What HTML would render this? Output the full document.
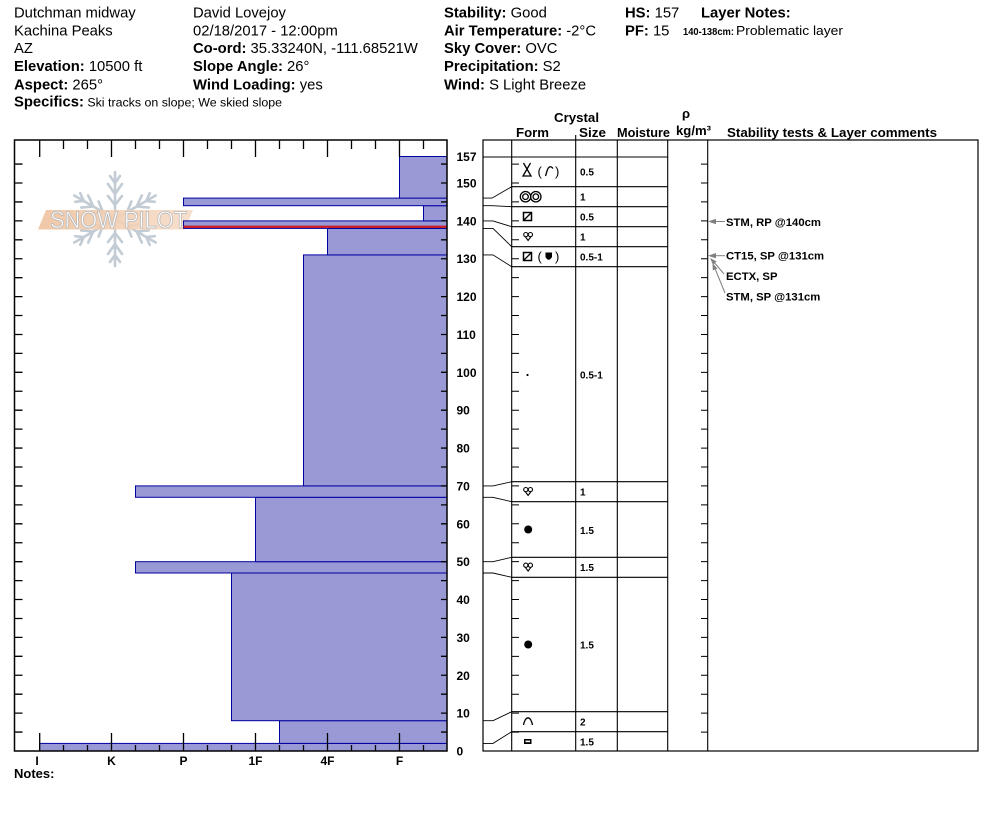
<!DOCTYPE html>
<html><head><meta charset="utf-8"><style>
html,body{margin:0;padding:0;background:#fff;}
svg{display:block;}
text{font-family:"Liberation Sans",Arial,sans-serif;fill:#000;}
.b{font-weight:bold;}
</style></head><body>
<svg width="994" height="840" viewBox="0 0 994 840" xmlns="http://www.w3.org/2000/svg">
<rect width="994" height="840" fill="#fff"/>
<!-- Header -->
<g font-size="14.8">
<text x="14" y="17.5">Dutchman midway</text>
<text x="14" y="35.3">Kachina Peaks</text>
<text x="14" y="53">AZ</text>
<text x="14" y="71"><tspan class="b">Elevation:</tspan> 10500 ft</text>
<text x="14" y="89.3"><tspan class="b">Aspect:</tspan> 265°</text>
<text x="14" y="106.5"><tspan class="b">Specifics:</tspan><tspan font-size="12.4"> Ski tracks on slope; We skied slope</tspan></text>

<text x="193" y="17.5">David Lovejoy</text>
<text x="193" y="35.3">02/18/2017 - 12:00pm</text>
<text x="193" y="53"><tspan class="b">Co-ord:</tspan> 35.33240N, -111.68521W</text>
<text x="193" y="71"><tspan class="b">Slope Angle:</tspan> 26°</text>
<text x="193" y="89.3"><tspan class="b">Wind Loading:</tspan> yes</text>

<text x="444" y="17.5"><tspan class="b">Stability:</tspan> Good</text>
<text x="444" y="35.3"><tspan class="b">Air Temperature:</tspan> -2°C</text>
<text x="444" y="53"><tspan class="b">Sky Cover:</tspan> OVC</text>
<text x="444" y="71"><tspan class="b">Precipitation:</tspan> S2</text>
<text x="444" y="89.3"><tspan class="b">Wind:</tspan>  S Light Breeze</text>

<text x="625" y="17.5"><tspan class="b">HS:</tspan> 157</text>
<text x="625" y="35.3"><tspan class="b">PF:</tspan> 15</text>
<text x="701" y="17.5" class="b">Layer Notes:</text>
</g>
<text x="683" y="35" font-size="10.5" class="b" textLength="51" lengthAdjust="spacingAndGlyphs">140-138cm:</text>
<text x="736" y="35" font-size="12.5" textLength="107" lengthAdjust="spacingAndGlyphs">Problematic layer</text>

<!-- Table header -->
<g font-size="13" class="b">
<text x="554" y="122" textLength="45" lengthAdjust="spacingAndGlyphs">Crystal</text>
<text x="516" y="137" textLength="33" lengthAdjust="spacingAndGlyphs">Form</text>
<text x="579" y="137" textLength="27" lengthAdjust="spacingAndGlyphs">Size</text>
<text x="617" y="137" textLength="53" lengthAdjust="spacingAndGlyphs">Moisture</text>
<text x="686" y="118" text-anchor="middle">ρ</text>
<text x="676" y="135" textLength="35" lengthAdjust="spacingAndGlyphs">kg/m³</text>
<text x="727" y="137" textLength="210" lengthAdjust="spacingAndGlyphs">Stability tests &amp; Layer comments</text>
</g>

<!-- Logo -->
<g stroke="#c3ccd4" stroke-width="2.6" fill="none" stroke-linecap="round">
<g transform="translate(115,219)">
<g id="arm"><path d="M0 0 V-47 M0 -14 L-7 -23 M0 -14 L7 -23 M0 -25 L-7 -35 M0 -25 L7 -35 M0 -36 L-5 -43 M0 -36 L5 -43"/></g>
<use href="#arm" transform="rotate(60)"/>
<use href="#arm" transform="rotate(120)"/>
<use href="#arm" transform="rotate(180)"/>
<use href="#arm" transform="rotate(240)"/>
<use href="#arm" transform="rotate(300)"/>
</g>
</g>
<defs><linearGradient id="bg" x1="0" x2="1" y1="0" y2="0"><stop offset="0" stop-color="#eec29e"/><stop offset="1" stop-color="#f6dcc8"/></linearGradient></defs>
<polygon points="46,210 193,210 185,229.5 38,229.5" fill="url(#bg)" opacity="0.9"/>
<text x="50" y="228" font-size="24" textLength="137" lengthAdjust="spacingAndGlyphs" style="fill:#ffffff" stroke="#b8b8b8" stroke-width="0.8">SNOW PILOT</text>

<!-- Left chart bars -->
<g fill="#9999d6" stroke="#0000a0" stroke-width="1">
<rect x="39.5" y="743.4" width="407.5" height="7.6"/>
<rect x="279.5" y="720.7" width="167.5" height="22.7"/>
<rect x="231.5" y="573" width="215.5" height="147.7"/>
<rect x="135.5" y="561.7" width="311.5" height="11.3"/>
<rect x="255.5" y="497.3" width="191.5" height="64.4"/>
<rect x="135.5" y="485.9" width="311.5" height="11.4"/>
<rect x="303.5" y="254.9" width="143.5" height="231"/>
<rect x="327.5" y="228.4" width="119.5" height="26.5"/>
<rect x="183.5" y="220.9" width="263.5" height="7.5"/>
<rect x="423.5" y="205.7" width="23.5" height="15.2"/>
<rect x="183.5" y="198.1" width="263.5" height="7.6"/>
<rect x="399.5" y="156.5" width="47.5" height="41.6"/>
</g>
<rect x="183.5" y="225.6" width="263.5" height="2.4" fill="#c8202a"/>

<!-- Left chart frame and ticks -->
<rect x="14.5" y="140" width="432.5" height="611" fill="none" stroke="#000" stroke-width="1.5"/>
<path stroke="#000" stroke-width="1.3" fill="none" d="
M39.7 140 V157 M111.5 140 V157 M183.5 140 V157 M255.5 140 V157 M327.5 140 V157 M399.5 140 V157
M63.5 140 V149 M87.5 140 V149 M135.5 140 V149 M159.5 140 V149 M207.5 140 V149 M231.5 140 V149 M279.5 140 V149 M303.5 140 V149 M351.5 140 V149 M375.5 140 V149 M423.5 140 V149
M39.7 751 V733 M111.5 751 V733 M183.5 751 V733 M255.5 751 V733 M327.5 751 V733 M399.5 751 V733
M63.5 751 V745 M87.5 751 V745 M135.5 751 V745 M159.5 751 V745 M207.5 751 V745 M231.5 751 V745 M279.5 751 V745 M303.5 751 V745 M351.5 751 V745 M375.5 751 V745 M423.5 751 V745
M14.5 732.07 H22.5 M14.5 713.13 H22.5 M14.5 694.2 H22.5 M14.5 675.27 H22.5 M14.5 656.33 H22.5 M14.5 637.4 H22.5 M14.5 618.47 H22.5 M14.5 599.53 H22.5 M14.5 580.6 H22.5 M14.5 561.67 H22.5 M14.5 542.73 H22.5 M14.5 523.8 H22.5 M14.5 504.87 H22.5 M14.5 485.93 H22.5 M14.5 467 H22.5 M14.5 448.07 H22.5 M14.5 429.13 H22.5 M14.5 410.2 H22.5 M14.5 391.27 H22.5 M14.5 372.33 H22.5 M14.5 353.4 H22.5 M14.5 334.47 H22.5 M14.5 315.53 H22.5 M14.5 296.6 H22.5 M14.5 277.67 H22.5 M14.5 258.73 H22.5 M14.5 239.8 H22.5 M14.5 220.87 H22.5 M14.5 201.93 H22.5 M14.5 183 H22.5 M14.5 164.07 H22.5
M441 732.07 H447 M441 713.13 H447 M441 694.2 H447 M441 675.27 H447 M441 656.33 H447 M441 637.4 H447 M441 618.47 H447 M441 599.53 H447 M441 580.6 H447 M441 561.67 H447 M441 542.73 H447 M441 523.8 H447 M441 504.87 H447 M441 485.93 H447 M441 467 H447 M441 448.07 H447 M441 429.13 H447 M441 410.2 H447 M441 391.27 H447 M441 372.33 H447 M441 353.4 H447 M441 334.47 H447 M441 315.53 H447 M441 296.6 H447 M441 277.67 H447 M441 258.73 H447 M441 239.8 H447 M441 220.87 H447 M441 201.93 H447 M441 183 H447 M441 164.07 H447
"/>

<!-- Axis labels -->
<g font-size="12" class="b">
<text x="456.5" y="161">157</text>
<text x="456.5" y="187.5">150</text>
<text x="456.5" y="225.4">140</text>
<text x="456.5" y="263.2">130</text>
<text x="456.5" y="301.1">120</text>
<text x="456.5" y="339">110</text>
<text x="456.5" y="376.8">100</text>
<text x="456.5" y="414.7">90</text>
<text x="456.5" y="452.6">80</text>
<text x="456.5" y="490.4">70</text>
<text x="456.5" y="528.3">60</text>
<text x="456.5" y="566.2">50</text>
<text x="456.5" y="604">40</text>
<text x="456.5" y="641.9">30</text>
<text x="456.5" y="679.8">20</text>
<text x="456.5" y="717.6">10</text>
<text x="456.5" y="755.5">0</text>
<g text-anchor="middle">
<text x="37" y="765">I</text>
<text x="111.5" y="765">K</text>
<text x="183.5" y="765">P</text>
<text x="255.5" y="765">1F</text>
<text x="327.5" y="765">4F</text>
<text x="399.5" y="765">F</text>
</g>
</g>
<text x="14" y="778" font-size="13" class="b">Notes:</text>

<!-- Table -->
<rect x="483" y="140" width="495" height="611" fill="none" stroke="#000" stroke-width="1.2"/>
<path stroke="#000" stroke-width="1.1" fill="none" d="
M511.7 140 V751 M575.7 135 V751 M617.3 140 V751 M667.7 140 V751 M707.7 140 V751
M483 157 H667.7
M511.7 186.7 H667.7 M511.7 206.7 H667.7 M511.7 226.7 H667.7 M511.7 246.7 H667.7 M511.7 266.7 H667.7
M511.7 481.7 H667.7 M511.7 501.7 H667.7 M511.7 557.3 H667.7 M511.7 577.3 H667.7 M511.7 711.7 H667.7 M511.7 731.7 H667.7
"/>
<path stroke="#000" stroke-width="0.9" fill="none" d="
M483 198.1 H492 L511.7 186.7 M483 205.7 H492 L511.7 206.7 M483 220.9 H493 L511.7 226.7 M483 228.4 H493 L511.7 246.7 M483 254.9 H493 L511.7 266.7
M483 485.9 H493 L511.7 481.7 M483 497.3 H493 L511.7 501.7 M483 561.7 H493 L511.7 557.3 M483 573 H493 L511.7 577.3
M483 720.7 H493 L511.7 711.7 M483 743.4 H493 L511.7 731.7
"/>
<path stroke="#000" stroke-width="1" fill="none" d="
M511.7 732.07 h7.3 M511.7 713.13 h7.3 M511.7 694.2 h7.3 M511.7 675.27 h7.3 M511.7 656.33 h7.3 M511.7 637.4 h7.3 M511.7 618.47 h7.3 M511.7 599.53 h7.3 M511.7 580.6 h7.3 M511.7 561.67 h7.3 M511.7 542.73 h7.3 M511.7 523.8 h7.3 M511.7 504.87 h7.3 M511.7 485.93 h7.3 M511.7 467 h7.3 M511.7 448.07 h7.3 M511.7 429.13 h7.3 M511.7 410.2 h7.3 M511.7 391.27 h7.3 M511.7 372.33 h7.3 M511.7 353.4 h7.3 M511.7 334.47 h7.3 M511.7 315.53 h7.3 M511.7 296.6 h7.3 M511.7 277.67 h7.3 M511.7 258.73 h7.3 M511.7 239.8 h7.3 M511.7 220.87 h7.3 M511.7 201.93 h7.3 M511.7 183 h7.3 M511.7 164.07 h7.3
M701 732.07 H707.7 M701 713.13 H707.7 M701 694.2 H707.7 M701 675.27 H707.7 M701 656.33 H707.7 M701 637.4 H707.7 M701 618.47 H707.7 M701 599.53 H707.7 M701 580.6 H707.7 M701 561.67 H707.7 M701 542.73 H707.7 M701 523.8 H707.7 M701 504.87 H707.7 M701 485.93 H707.7 M701 467 H707.7 M701 448.07 H707.7 M701 429.13 H707.7 M701 410.2 H707.7 M701 391.27 H707.7 M701 372.33 H707.7 M701 353.4 H707.7 M701 334.47 H707.7 M701 315.53 H707.7 M701 296.6 H707.7 M701 277.67 H707.7 M701 258.73 H707.7 M701 239.8 H707.7 M701 220.87 H707.7 M701 201.93 H707.7 M701 183 H707.7 M701 164.07 H707.7
"/>

<!-- Crystal form symbols -->
<g stroke="#000" fill="none" stroke-width="1.3">
<path d="M523.5 163 L531 176 H523 L530.5 163"/>
<path d="M545.5 176 L547.5 169.5 Q550 164.5 553 168.5"/>
<circle cx="525.5" cy="196.7" r="5.2"/><circle cx="525.5" cy="196.7" r="2.8"/>
<circle cx="535.8" cy="196.7" r="5.2"/><circle cx="535.8" cy="196.7" r="2.8"/>
<rect x="523.5" y="212.5" width="8" height="8" stroke-width="1.5"/><path d="M523.5 220.5 L531.5 212.5"/>
<circle cx="525.8" cy="234.6" r="2.1" stroke-width="1.1"/><circle cx="530.4" cy="234.6" r="2.1" stroke-width="1.1"/><path d="M525.5 237 L528.1 240.5 L530.7 237" stroke-width="1.1"/>
<rect x="523.5" y="252.5" width="8" height="8" stroke-width="1.5"/><path d="M523.5 260.5 L531.5 252.5"/>
<circle cx="525.8" cy="489.6" r="2.1" stroke-width="1.1"/><circle cx="530.4" cy="489.6" r="2.1" stroke-width="1.1"/><path d="M525.5 492 L528.1 495.5 L530.7 492" stroke-width="1.1"/>
<circle cx="525.8" cy="565.2" r="2.1" stroke-width="1.1"/><circle cx="530.4" cy="565.2" r="2.1" stroke-width="1.1"/><path d="M525.5 567.6 L528.1 571.1 L530.7 567.6" stroke-width="1.1"/>
<path d="M523.5 725 Q525 718 528 717.8 Q531 718 532.5 725"/>
</g>
<path d="M545.5 252.5 H552 V257 Q548.7 262.5 545.5 257 Z" fill="#000"/>
<circle cx="527.5" cy="375" r="1.1" fill="#000"/>
<circle cx="528.2" cy="529.5" r="4" fill="#000"/>
<circle cx="528.2" cy="644.5" r="4" fill="#000"/>
<rect x="524" y="739" width="7.5" height="5" fill="#000"/>
<rect x="525.5" y="740.6" width="4.5" height="1.6" fill="#fff"/>
<g font-size="13">
<text x="537.5" y="176">(</text><text x="555" y="176">)</text>
<text x="537.5" y="261">(</text><text x="555" y="261">)</text>
</g>

<!-- Sizes -->
<g font-size="10" class="b">
<text x="580" y="175.5">0.5</text>
<text x="580" y="200.3">1</text>
<text x="580" y="220.3">0.5</text>
<text x="580" y="240.3">1</text>
<text x="580" y="260.3">0.5-1</text>
<text x="580" y="378.3">0.5-1</text>
<text x="580" y="495.3">1</text>
<text x="580" y="534">1.5</text>
<text x="580" y="571">1.5</text>
<text x="580" y="648.5">1.5</text>
<text x="580" y="725.3">2</text>
<text x="580" y="745.3">1.5</text>
</g>

<!-- Comments -->
<g stroke="#808080" stroke-width="1" fill="none">
<path d="M712 221.5 H725"/>
<path d="M712 255.7 H725"/>
<path d="M713 261 L724 274"/>
<path d="M714 266 L725 293"/>
</g>
<g fill="#808080">
<polygon points="708,221.5 716,218.8 716,224.2"/>
<polygon points="708,255.7 716,253 716,258.4"/>
<polygon points="710,258 716.6,261.4 713,264.8"/>
<polygon points="712.5,263 717.4,268.6 712.8,270.4"/>
</g>
<g font-size="11.3" class="b">
<text x="726" y="226">STM, RP @140cm</text>
<text x="726" y="259.6">CT15, SP @131cm</text>
<text x="726" y="280">ECTX, SP</text>
<text x="726" y="300.6">STM, SP @131cm</text>
</g>
</svg>
</body></html>
